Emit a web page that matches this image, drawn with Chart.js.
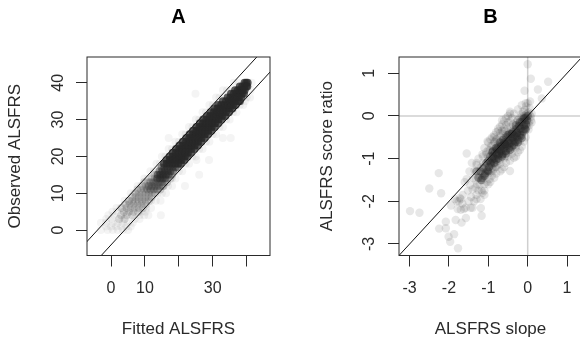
<!DOCTYPE html>
<html>
<head>
<meta charset="utf-8">
<script src="https://cdn.jsdelivr.net/npm/chart.js@4"></script>
<style>
  html, body { margin: 0; padding: 0; background: #fff; overflow: hidden; width: 580px; height: 338px; }
  .panel { position: absolute; top: 0; height: 338px; }
  #panelA { left: 0; width: 290px; }
  #panelB { left: 290px; width: 300px; }
</style>
</head>
<body>
<div class="panel" id="panelA"><canvas id="chartA"></canvas></div>
<div class="panel" id="panelB"><canvas id="chartB"></canvas></div>
<script>
// Panel A: observed score is whole numbers, so fitted values are listed per observed level
const xTicksA = [0, 10, 20, 30, 40];
const xTickLabelsA = ['0', '10', '', '30', ''];
const yTicksA = [0, 10, 20, 30, 40];
const yTickLabelsA = ['0', '10', '20', '30', '40'];

const coreLevelsA = [40, 39, 38, 37, 36, 35, 34, 33, 32, 31, 30, 29, 28, 27, 26, 25, 24, 23, 22, 21, 20, 19, 18];
const coreFittedA = [
  [39.4, 39.9, 40.3],
  [38.0, 38.7, 39.3, 39.9, 40.2],
  [36.6, 37.4, 38.1, 38.8, 39.4],
  [35.4, 36.2, 37.0, 37.8, 38.6, 39.2],
  [34.4, 35.2, 36.0, 36.8, 37.6, 38.4],
  [33.0, 33.9, 34.8, 35.6, 36.5, 37.4, 38.0],
  [31.6, 32.5, 33.4, 34.3, 35.2, 36.0, 36.8],
  [30.5, 31.4, 32.3, 33.2, 34.1, 35.0, 35.8],
  [29.4, 30.3, 31.2, 32.1, 33.0, 33.9, 34.8],
  [28.3, 29.2, 30.1, 31.0, 31.9, 32.8, 33.7],
  [27.2, 28.1, 29.0, 29.9, 30.8, 31.7, 32.6],
  [26.2, 27.1, 28.0, 28.9, 29.8, 30.7, 31.6],
  [25.2, 26.1, 27.0, 27.9, 28.8, 29.7, 30.6],
  [24.2, 25.1, 26.0, 26.9, 27.8, 28.7, 29.6],
  [23.2, 24.1, 25.0, 25.9, 26.8, 27.7, 28.6],
  [22.2, 23.1, 24.0, 24.9, 25.8, 26.7, 27.6],
  [21.2, 22.1, 23.0, 23.9, 24.8, 25.7, 26.6],
  [20.2, 21.1, 22.0, 22.9, 23.8, 24.7, 25.6],
  [19.2, 20.1, 21.0, 21.9, 22.8, 23.7, 24.6],
  [18.2, 19.1, 20.0, 20.9, 21.8, 22.7, 23.6],
  [17.3, 18.2, 19.1, 20.0, 20.9, 21.8, 22.6],
  [16.4, 17.3, 18.2, 19.0, 19.9, 20.8, 21.6],
  [15.6, 16.5, 17.3, 18.1, 18.9, 19.8, 20.6]
];

// the band fades out towards its lower end
const fadeLevelsA = [17, 16, 15, 14];
const fadeFittedA = [
  [14.9, 15.7, 16.5, 17.3, 18.1, 18.9, 19.6],
  [14.3, 15.1, 15.9, 16.7, 17.5, 18.3],
  [13.8, 14.6, 15.4, 16.2, 17.0],
  [13.6, 14.4, 15.2, 16.0]
];

const softLevelsA = [15, 14, 13, 12, 11];
const softFittedA = [
  [12.8, 13.6, 14.4, 15.2, 16.0, 16.8, 17.6, 18.0],
  [12.0, 12.9, 13.8, 14.7, 15.6, 16.5, 17.5],
  [11.5, 12.4, 13.3, 14.2, 15.1, 16.5],
  [11.0, 11.9, 12.8, 13.7, 14.6, 15.5],
  [10.5, 11.5, 12.5, 13.5, 14.5]
];

const midLevelsA = [13, 12, 11, 10, 9, 8, 7, 6, 5, 4, 3];
const midFittedA = [
  [9.8, 10.8, 11.8, 12.8, 13.8, 14.8, 15.8],
  [9.2, 10.2, 11.2, 12.2, 13.2, 14.2, 15.2],
  [7.8, 8.8, 9.8, 10.8, 11.8, 12.8, 13.8],
  [7.2, 8.2, 9.2, 10.2, 11.2, 12.2, 13.0],
  [6.2, 7.2, 8.2, 9.2, 10.2, 11.2, 12.0],
  [5.2, 6.2, 7.2, 8.2, 9.2, 10.2, 11.2],
  [4.2, 5.4, 6.6, 7.8, 9.0, 10.2],
  [3.2, 4.6, 5.8, 7.0, 8.2, 9.4],
  [3.8, 5.2, 6.6, 8.0],
  [3.0, 4.6, 6.2],
  [2.4, 4.0]
];

const faintLevelsA = [37, 35, 25, 19, 15, 12, 4, 25,
  40, 38, 36, 34, 32, 30, 28, 26, 24, 22, 20, 18, 16, 14, 12, 10, 8, 6, 5, 4, 3, 2, 1, 0];
const faintFittedA = [
  [24.9], [39.5], [35.3, 33.0], [28.9, 25.2], [26.0], [21.8], [14.7], [17.0],
  [36.2, 37.6, 41.5],
  [33.0, 34.2, 35.2, 41.2],
  [31.0, 32.0, 33.0, 40.0, 41.0],
  [29.0, 30.0, 31.0, 38.0, 39.0],
  [27.0, 28.0, 29.0, 36.0, 37.0],
  [25.0, 26.0, 27.0, 34.0, 35.0],
  [23.0, 24.0, 25.0, 32.0, 33.0],
  [21.0, 22.0, 23.0, 30.0, 31.0],
  [19.0, 20.0, 21.0, 28.0, 29.0],
  [17.0, 18.0, 19.0, 26.0, 27.0],
  [15.0, 16.0, 17.0, 24.0, 25.0],
  [13.4, 14.4, 15.4, 22.0, 23.0],
  [11.6, 12.6, 13.6, 20.0, 21.0],
  [9.8, 10.8, 11.8, 18.0, 19.0],
  [7.8, 8.8, 15.4, 16.8, 18.0],
  [5.8, 6.8, 13.8, 15.0, 16.2],
  [4.0, 5.2, 11.8, 13.2, 14.6],
  [1.6, 2.8, 10.4, 11.8],
  [0.4, 1.8, 9.0, 10.2],
  [-0.8, 0.8, 8.4, 9.8, 11.0],
  [-1.4, 0.2, 7.0, 8.4],
  [-3.0, -1.5, 0.5, 2.0, 3.5, 5.0, 6.4],
  [-1.5, 0.0, 1.5, 3.0, 4.5, 5.8],
  [-3.0, -1.0, 0.5, 2.0, 3.5, 5.0]
];

const upperLineFittedA = [-20, 60];
const upperLineObservedA = [-16, 64];
const lowerLineFittedA = [-20, 60];
const lowerLineObservedA = [-24, 56];

// Panel B: patient slope against score ratio
const xTicksB = [-3, -2, -1, 0, 1];
const yTicksB = [-3, -2, -1, 0, 1];
const tickLabelsB = ['-3', '-2', '-1', '0', '1'];

const slopeB = [
  0, 0.08, 0.52, 0.26, -0.08, 0.36, -2.99, -2.75, -2.5, -2.26,
  -2.2, -2.25, -2.08, -2.08, -2.01, -1.87, -1.97, -1.77, -1.83, -1.68,
  -1.57, -1.17, -1.19, -0.45, -1.55,
  -1.95, -1.85, -1.8, -1.78, -1.72, -1.7, -1.66, -1.62, -1.6, -1.58,
  -1.55, -1.52, -1.5, -1.48, -1.46, -1.44, -1.42, -1.4, -1.38, -1.36,
  -1.35, -1.33, -1.32, -1.3, -1.3, -1.28, -1.27, -1.25,
  -1.24, -1.22, -1.2, -1.18, -1.17, -1.15, -1.14, -1.12, -1.1, -1.1,
  -1.08, -1.06, -1.05, -1.04, -1.02, -1, -1, -0.98, -0.97, -0.96,
  -0.95, -0.94, -0.93, -0.92, -0.91, -0.9, -0.9, -1.13, -1.03, -1.16,
  -0.89, -0.88, -0.87, -0.86, -0.85, -0.84, -0.83, -0.82, -0.81, -0.8,
  -0.8, -0.79, -0.78, -0.77, -0.76, -0.75, -0.75, -0.74, -0.73, -0.72,
  -0.71, -0.7, -0.7, -0.69, -0.68, -0.67, -0.66, -0.65, -0.65, -0.64,
  -0.63, -0.62, -0.61, -0.6, -0.6, -0.59, -0.58, -0.57, -0.56, -0.55,
  -0.55, -0.54, -0.53, -0.52, -0.51, -0.5, -0.5, -0.49, -0.48, -0.47,
  -0.46, -0.45, -0.45, -0.44, -0.43, -0.42, -0.41, -0.4, -0.4, -0.39,
  -0.38, -0.37, -0.36, -0.35, -0.35, -0.34, -0.33, -0.32, -0.31, -0.3,
  -0.3, -0.29, -0.28, -0.27, -0.26, -0.25, -0.25, -0.24, -0.23, -0.22,
  -0.21, -0.2, -0.2, -0.19, -0.18, -0.17, -0.16, -0.15, -0.15, -0.14,
  -0.13, -0.12, -0.11, -0.1, -0.1, -0.09, -0.08, -0.07, -0.06, -0.05,
  -0.05, -0.04, -0.03, -0.02, -0.01, 0, 0, 0.02, 0.03, 0.05,
  0.06, 0.08, -0.6, -0.55, -0.3, -0.25, -0.15, -0.1, -0.05, 0.04,
  -0.25, -0.35, -0.45, -0.15, -0.05, 0.05, 0.08, -1.75, -1.7, -1.65,
  -1.4, -1.45, -1.3, -1.2, -1.15, -1.1, -0.75, -0.65, -0.85, -1.02,
  -1, -0.95, -0.9, -0.85, -0.8, -0.75, -0.7, -0.65, -0.6, -0.55,
  -0.5, -0.45, -1.1, -1.15, -1.25, -1.3, -0.9, -0.85, -0.8, -0.7,
  -0.65, -0.6, -0.55, -0.5, -0.45, -0.4, -1, -1.05,
  -0.05, -0.1, -0.15, -0.2, -0.25, -0.3, -0.35, -0.45, -0.55, -0.6,
  -0.65, -0.7, -0.8, -0.85, -0.95, -1, -1.1, -0.2, -0.3, -0.4,
  -0.5, -0.6, -0.7, -0.8, -0.9, 0.02, 0.1, 0.1
];
const ratioB = [
  1.21, 0.87, 0.8, 0.62, 0.59, 0.41, -2.23, -2.27, -1.7, -1.34,
  -1.81, -2.64, -2.63, -2.48, -2.83, -2.77, -2.95, -3.1, -2.44, -2.5,
  -2.39, -2.34, -2.16, -1.29, -0.88,
  -2.1, -1.95, -2, -2.18, -1.92, -2.2, -2.05, -2.18, -1.55, -2.15,
  -1.48, -1.75, -2, -1.3, -1.62, -1.9, -1.1, -1.72, -1.45, -2,
  -1.28, -1.68, -1.5, -1.85, -1.1, -1.6, -1.42, -1.75,
  -1.3, -1.62, -1.45, -1.2, -1.75, -1.5, -0.95, -1.35, -1.6, -1.15,
  -1.4, -1.28, -0.85, -1.55, -1.1, -1.35, -0.95, -1.2, -1.48, -0.8,
  -1.05, -1.3, -0.7, -1.15, -1.4, -0.95, -1.22, -1.1, -1.3, -1.25,
  -1.05, -0.78, -1.25, -0.9, -1.12, -0.62, -1, -1.2, -0.75, -0.92,
  -1.08, -0.55, -0.85, -1.15, -0.68, -0.95, -0.8, -1.05, -0.6, -0.9,
  -0.72, -1.02, -0.48, -0.82, -0.65, -0.95, -0.58, -0.78, -0.88, -0.42,
  -0.7, -0.9, -0.52, -0.8, -0.62, -0.36, -0.72, -0.95, -0.55, -0.66,
  -0.82, -0.45, -0.6, -0.75, -0.3, -0.52, -0.68, -0.85, -0.4, -0.58,
  -0.72, -0.48, -0.62, -0.25, -0.55, -0.78, -0.42, -0.6, -0.35, -0.5,
  -0.68, -0.2, -0.45, -0.56, -0.3, -0.62, -0.4, -0.5, -0.72, -0.25,
  -0.44, -0.15, -0.36, -0.55, -0.28, -0.45, -0.1, -0.32, -0.6, -0.22,
  -0.4, -0.05, -0.28, -0.48, -0.16, -0.35, -0.02, -0.24, -0.42, -0.1,
  -0.3, 0.1, -0.18, -0.38, -0.06, -0.24, 0.14, -0.12, -0.3, 0.02,
  -0.18, 0.22, -0.06, -0.25, 0.05, 0.3, -0.12, 0.08, -0.15, 0.02,
  0.34, -0.1, -0.85, -0.7, -0.6, -0.1, 0.04, 0, -0.02, -0.22,
  0.15, 0.05, 0.1, 0.25, 0.3, 0.18, -0.02, -2, -1.95, -1.85,
  -2.15, -2.15, -1.95, -1.95, -1.8, -1.85, -0.35, -0.1, -0.5, -0.6,
  -0.62, -0.55, -0.5, -0.45, -0.38, -0.3, -0.25, -0.2, -0.12, -0.05,
  0, 0.05, -0.75, -0.9, -1, -1.15, -0.7, -0.6, -0.55, -0.4,
  -0.35, -0.3, -0.22, -0.15, -0.12, -0.05, -0.8, -0.9,
  -0.5, -0.6, -0.72, -0.8, -0.85, -0.95, -0.98, -1.05, -1.1, -1.2,
  -1.25, -1.3, -1.35, -1.45, -1.55, -1.6, -1.75, -0.6, -0.75, -0.88,
  -0.95, -1, -1.12, -1.2, -1.3, -0.32, -0.15, 0.05
];

const slopeCoreB = [
  -1.25, -1.2, -1.15, -1.12, -1.08, -1.05, -1.02, -1, -0.98, -0.95,
  -0.93, -0.9, -0.88, -0.85, -0.83, -0.8, -0.78, -0.76, -0.74, -0.72,
  -0.7, -0.68, -0.66, -0.64, -0.62, -0.6, -0.58, -0.56, -0.54, -0.52,
  -0.5, -0.48, -0.46, -0.44, -0.42, -0.4, -0.38, -0.36, -0.34, -0.32,
  -0.3, -0.28, -0.26, -0.24, -0.22, -0.2, -0.18, -0.16, -0.14, -0.12,
  -0.1, -0.08, -0.06, -0.04, -0.02, 0,
  -1.3, -1.18, -1.1, -1, -0.95, -0.9, -0.85, -0.8, -0.75, -0.7,
  -0.65, -0.6, -0.55, -0.5, -0.45, -0.4, -0.35, -0.3, -0.25, -0.2,
  -0.15, -0.1, -0.05, -0.88, -0.78, -0.68, -0.58, -0.48, -0.38, -0.28
];
const ratioCoreB = [
  -1.45, -1.3, -1.45, -1.22, -1.35, -1.1, -1.28, -1.05, -1.2, -0.95,
  -1.12, -1.02, -0.82, -1, -0.86, -1.02, -0.78, -0.92, -0.72, -0.88,
  -0.62, -0.82, -0.7, -0.9, -0.56, -0.76, -0.66, -0.82, -0.5, -0.7,
  -0.58, -0.76, -0.42, -0.64, -0.52, -0.72, -0.38, -0.58, -0.46, -0.62,
  -0.32, -0.5, -0.4, -0.56, -0.24, -0.44, -0.3, -0.46, -0.14, -0.36,
  -0.22, -0.3, -0.05, -0.2, -0.1, 0,
  -1.3, -1.5, -1.4, -1.3, -1.1, -0.85, -1.1, -0.75, -1, -0.78,
  -0.95, -0.62, -0.88, -0.45, -0.8, -0.42, -0.68, -0.22, -0.62, -0.15,
  -0.52, -0.06, -0.32, -0.95, -0.88, -0.72, -0.66, -0.64, -0.5, -0.4
];

const diagonalB = [-5, 5];
const zeroLineSpanB = [-5, 5];
const zeroLineB = [0, 0];

const FONT = '"Liberation Sans", Arial, sans-serif';
const INK = '#2a2a2a';

function rowsToPoints(levels, rows) {
  const points = [];
  levels.forEach((level, i) => {
    rows[i].forEach(x => points.push({ x: x, y: level }));
  });
  return points;
}

function pairsToPoints(xs, ys) {
  return xs.map((x, i) => ({ x: x, y: ys[i] }));
}

function lineSet(xs, ys, color, width) {
  return {
    data: pairsToPoints(xs, ys),
    showLine: true,
    borderColor: color,
    borderWidth: width,
    pointRadius: 0
  };
}

function pointSet(points, alpha, radius) {
  return {
    data: points,
    showLine: false,
    backgroundColor: `rgba(40, 40, 40, ${alpha})`,
    borderWidth: 0,
    pointRadius: radius,
    pointHoverRadius: radius
  };
}

// R style box round the plot region, panel letter centred over it
const boxPlugin = {
  id: 'plotBox',
  afterLayout(chart) {
    chart.titleBlock.left = chart.chartArea.left;
    chart.titleBlock.right = chart.chartArea.right;
  },
  afterDatasetsDraw(chart) {
    const a = chart.chartArea;
    const c = chart.ctx;
    c.save();
    c.strokeStyle = INK;
    c.lineWidth = 1;
    c.strokeRect(a.left, a.top, a.right - a.left, a.bottom - a.top);
    c.restore();
  }
};

function axisOptions(pos, range, tickValues, tickLabels, titleText, size, labelPadding, titlePadding) {
  const isY = pos === 'left';
  return {
    type: 'linear',
    position: pos,
    min: range[0],
    max: range[1],
    afterBuildTicks(scale) {
      scale.ticks = tickValues.map(v => ({ value: v }));
    },
    afterFit(scale) {
      if (isY) scale.width = size; else scale.height = size;
    },
    ticks: {
      autoSkip: false,
      color: INK,
      padding: labelPadding,
      font: { family: FONT, size: 16 },
      minRotation: isY ? 90 : 0,
      maxRotation: isY ? 90 : 0,
      crossAlign: isY ? 'center' : 'near',
      callback(value) {
        return tickLabels[tickValues.indexOf(value)];
      }
    },
    grid: {
      drawOnChartArea: false,
      drawTicks: true,
      tickLength: 11,
      tickColor: INK,
      tickWidth: 1
    },
    border: { display: false },
    title: {
      display: true,
      text: titleText,
      color: INK,
      font: { family: FONT, size: 17, lineHeight: 1 },
      padding: titlePadding
    }
  };
}

function makeChart(id, title, datasets, xAxis, yAxis, padRight) {
  return new Chart(document.getElementById(id), {
    type: 'scatter',
    data: { datasets: datasets },
    plugins: [boxPlugin],
    options: {
      responsive: true,
      maintainAspectRatio: false,
      animation: false,
      layout: { padding: { left: 0, right: padRight, top: 0, bottom: 0 } },
      plugins: {
        legend: { display: false },
        tooltip: { enabled: false },
        title: {
          display: true,
          text: title,
          color: '#000',
          font: { family: FONT, size: 20, weight: 'bold', lineHeight: 1.2 },
          padding: { top: 5, bottom: 28 }
        }
      },
      scales: { x: xAxis, y: yAxis }
    }
  });
}

makeChart('chartA', 'A', [
  lineSet(upperLineFittedA, upperLineObservedA, '#111', 1),
  lineSet(lowerLineFittedA, lowerLineObservedA, '#111', 1),
  pointSet(rowsToPoints(coreLevelsA, coreFittedA), 0.75, 4),
  pointSet(rowsToPoints(fadeLevelsA, fadeFittedA), 0.45, 4),
  pointSet(rowsToPoints(softLevelsA, softFittedA), 0.18, 4),
  pointSet(rowsToPoints(midLevelsA, midFittedA), 0.16, 4),
  pointSet(rowsToPoints(faintLevelsA, faintFittedA), 0.05, 4)
],
  axisOptions('bottom', [-7.1, 46.9], xTicksA, xTickLabelsA, 'Fitted ALSFRS', 82.5, 12, { top: 12, bottom: 0 }),
  axisOptions('left', [-6.9, 47], yTicksA, yTickLabelsA, 'Observed ALSFRS', 87, 8.5, { top: 6.5, bottom: 0 }),
  20);

makeChart('chartB', 'B', [
  lineSet(diagonalB, diagonalB, '#111', 1),
  pointSet(pairsToPoints(slopeCoreB, ratioCoreB), 0.36, 4.2),
  pointSet(pairsToPoints(slopeB, ratioB), 0.11, 4.2),
  lineSet(zeroLineSpanB, zeroLineB, '#cfcfcf', 1.5),
  lineSet(zeroLineB, zeroLineSpanB, '#cfcfcf', 1.5)
],
  axisOptions('bottom', [-3.27, 1.38], xTicksB, tickLabelsB, 'ALSFRS slope', 82.5, 12, { top: 12, bottom: 0 }),
  axisOptions('left', [-3.27, 1.38], yTicksB, tickLabelsB, 'ALSFRS score ratio', 109, 11.5, { top: 28.5, bottom: 0 }),
  8);
</script>
</body>
</html>
